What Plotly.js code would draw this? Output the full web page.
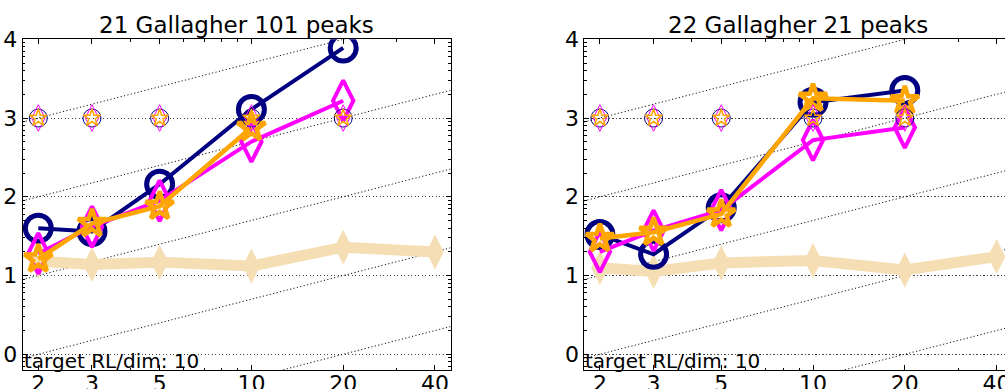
<!DOCTYPE html>
<html>
<head>
<meta charset="utf-8">
<script src="https://cdn.plot.ly/plotly-3.0.1.min.js"></script>
<style>
html,body{margin:0;padding:0;overflow:hidden;background:#fff;}
#chart{width:1020px;height:389px;}
</style>
</head>
<body>
<div id="chart"></div>
<script>
// ---- data (y = log10 of ERT / dimension) ----
const dims = [2, 3, 5, 10, 20, 40];
const dimLabels = ['2', '3', '5', '10', '20', '40'];
const yTicks = [0, 1, 2, 3, 4];
const yTickLabels = ['0', '1', '2', '3', '4'];

const titles = ['21 Gallagher 101 peaks', '22 Gallagher 21 peaks'];
const targetText = 'target RL/dim: 10';

// f21
const f21CircleX = [2, 3, 5, 10, 20];
const f21CircleY = [1.60, 1.56, 2.16, 3.11, 3.89];
const f21DiamondX = [2, 3, 5, 10, 20];
const f21DiamondY = [1.28, 1.62, 1.95, 2.70, 3.22];
const f21StarX = [2, 3, 5, 10];
const f21StarY = [1.21, 1.66, 1.88, 2.88];
const f21RefY = [1.18, 1.14, 1.17, 1.12, 1.36, 1.30];
const f21FailX = [2, 3, 5, 10, 20];
const f21FailY = [3, 3, 3, 3, 3];

// f22
const f22CircleX = [2, 3, 5, 10, 20];
const f22CircleY = [1.52, 1.27, 1.86, 3.20, 3.35];
const f22DiamondX = [2, 3, 5, 10, 20];
const f22DiamondY = [1.30, 1.57, 1.83, 2.72, 2.88];
const f22StarX = [2, 3, 5, 10, 20];
const f22StarY = [1.47, 1.55, 1.78, 3.25, 3.22];
const f22RefY = [1.10, 1.05, 1.16, 1.19, 1.07, 1.24];
const f22FailX = [2, 3, 5, 10, 20];
const f22FailY = [3, 3, 3, 3, 3];

// ---- styling ----
const NAVY = '#000080', MAG = '#ff00ff', ORANGE = '#ffa500', WHEAT = '#f5deb3';
const FONT = 'DejaVu Sans, sans-serif';
const W = 1020, H = 389;

const panels = [
  {xa: 'x', ya: 'y', circleX: f21CircleX, circleY: f21CircleY, diaX: f21DiamondX, diaY: f21DiamondY,
   starX: f21StarX, starY: f21StarY, refY: f21RefY, failX: f21FailX, failY: f21FailY},
  {xa: 'x2', ya: 'y2', circleX: f22CircleX, circleY: f22CircleY, diaX: f22DiamondX, diaY: f22DiamondY,
   starX: f22StarX, starY: f22StarY, refY: f22RefY, failX: f22FailX, failY: f22FailY}
];

const traces = [];
const guideX = [1.6, 50];
panels.forEach(p => {
  // guide lines of slope 1 (linear scaling)
  for (let k = -1; k <= 3; k++) {
    traces.push({x: guideX, y: guideX.map(v => Math.log10(v / 2) + k), xaxis: p.xa, yaxis: p.ya,
      mode: 'lines', line: {color: '#111', width: 1, dash: '1.2px,2.3px'}, hoverinfo: 'skip', showlegend: false});
  }
  traces.push({x: dims, y: p.refY, xaxis: p.xa, yaxis: p.ya, mode: 'lines+markers',
    line: {color: WHEAT, width: 11}, marker: {symbol: 'diamond-tall', size: 25, color: WHEAT}, showlegend: false});
  traces.push({x: p.circleX, y: p.circleY, xaxis: p.xa, yaxis: p.ya, mode: 'lines+markers',
    line: {color: NAVY, width: 4}, marker: {symbol: 'circle-open', size: 26, color: NAVY, line: {width: 5, color: NAVY}}, showlegend: false});
  traces.push({x: p.diaX, y: p.diaY, xaxis: p.xa, yaxis: p.ya, mode: 'lines+markers',
    line: {color: MAG, width: 4}, marker: {symbol: 'diamond-tall-open', size: 29, color: MAG, line: {width: 4, color: MAG}}, showlegend: false});
  traces.push({x: p.starX, y: p.starY, xaxis: p.xa, yaxis: p.ya, mode: 'lines+markers',
    line: {color: ORANGE, width: 4.5}, marker: {symbol: 'star-open', size: 21, color: ORANGE, line: {width: 4.5, color: ORANGE}}, showlegend: false});
  // small markers
  traces.push({x: p.failX, y: p.failY, xaxis: p.xa, yaxis: p.ya, mode: 'markers',
    marker: {symbol: 'circle-open', size: 18, color: NAVY, line: {width: 1, color: NAVY}}, showlegend: false});
  traces.push({x: p.failX, y: p.failY, xaxis: p.xa, yaxis: p.ya, mode: 'markers',
    marker: {symbol: 'diamond-tall-open', size: 19, color: MAG, line: {width: 1, color: MAG}}, showlegend: false});
  traces.push({x: p.failX, y: p.failY, xaxis: p.xa, yaxis: p.ya, mode: 'markers',
    marker: {symbol: 'star-open', size: 13, color: ORANGE, line: {width: 1.5, color: ORANGE}}, showlegend: false});
});

// log-spaced minor tick positions for the exponent axis
const yMinor = [];
for (let k = -1; k <= 3; k++) for (let m = 2; m <= 9; m++) {
  const v = k + Math.log10(m);
  if (v > -0.2 && v < 4) yMinor.push(v);
}
const xMinor = [4, 6, 7, 8, 9, 30];

const ydom = [(H - 370) / H, (H - 39.3) / H];
const xdoms = [[22.7 / W, 450.7 / W], [584.3 / W, 1012.3 / W]];

function xAxis(dom, anchor) {
  return {domain: dom, anchor: anchor, type: 'log', range: [0.2499, 1.6536],
    tickmode: 'array', tickvals: dims, ticktext: dimLabels,
    ticks: 'inside', ticklen: 5, tickwidth: 1, tickcolor: '#000',
    showline: true, linecolor: '#000', linewidth: 1, mirror: 'ticks',
    showgrid: false, zeroline: false, ticklabelstandoff: -6,
    minor: {tickmode: 'array', tickvals: xMinor, ticks: 'inside', ticklen: 2.5, tickcolor: '#000', showgrid: false},
    tickfont: {family: FONT, size: 22, color: '#000'}};
}
function yAxis(anchor) {
  return {domain: ydom, anchor: anchor, range: [-0.2, 4],
    tickmode: 'array', tickvals: yTicks, ticktext: yTickLabels,
    ticks: 'inside', ticklen: 5, tickwidth: 1, tickcolor: '#000',
    showline: true, linecolor: '#000', linewidth: 1, mirror: 'ticks',
    showgrid: true, gridcolor: '#444', gridwidth: 1, griddash: '1.2px,2.3px', zeroline: false,
    minor: {tickmode: 'array', tickvals: yMinor, ticks: 'inside', ticklen: 2.5, tickcolor: '#000', showgrid: false},
    tickfont: {family: FONT, size: 22, color: '#000'}};
}

const annotations = [];
['x', 'x2'].forEach((xa, i) => {
  annotations.push({text: titles[i], xref: xa + ' domain', yref: 'paper', x: 0.5, y: ydom[1],
    xanchor: 'center', yanchor: 'bottom', yshift: -1, showarrow: false,
    font: {family: FONT, size: 23, color: '#000'}});
  annotations.push({text: targetText, xref: xa + ' domain', yref: 'paper', x: 0, y: ydom[0],
    xanchor: 'left', yanchor: 'bottom', xshift: -1, yshift: -5, showarrow: false,
    font: {family: FONT, size: 20, color: '#000'}});
});

const layout = {
  width: W, height: H, margin: {l: 0, r: 0, t: 0, b: 0},
  paper_bgcolor: '#fff', plot_bgcolor: '#fff', showlegend: false,
  font: {family: FONT, color: '#000'},
  xaxis: xAxis(xdoms[0], 'y'), yaxis: yAxis('x'),
  xaxis2: xAxis(xdoms[1], 'y2'), yaxis2: yAxis('x2'),
  annotations: annotations
};

Plotly.newPlot('chart', traces, layout, {displayModeBar: false, staticPlot: true});
</script>
</body>
</html>
